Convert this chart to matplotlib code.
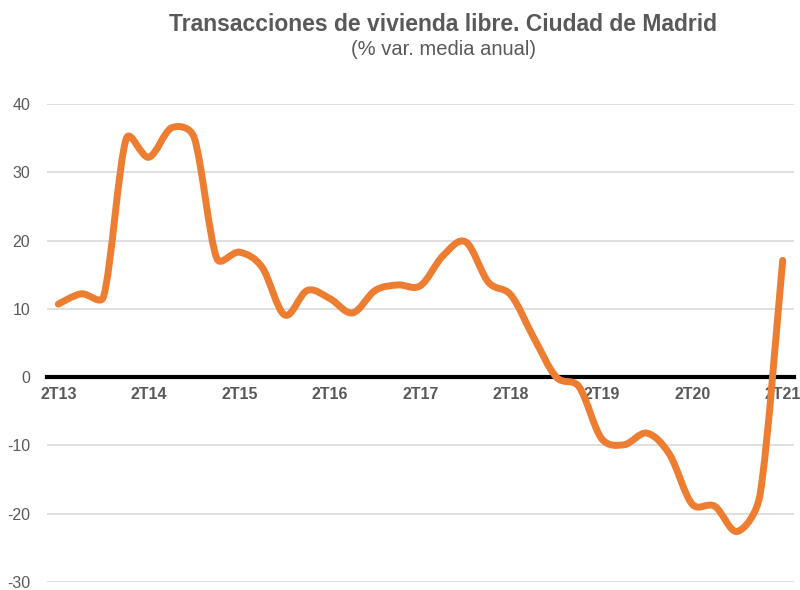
import matplotlib
matplotlib.use("Agg")
import matplotlib.pyplot as plt
import numpy as np
from matplotlib.path import Path
from matplotlib.patches import PathPatch

# Datos (% var. media anual), trimestral 2T13 - 2T21
trimestres = ["2T13", "3T13", "4T13", "1T14", "2T14", "3T14", "4T14", "1T15",
              "2T15", "3T15", "4T15", "1T16", "2T16", "3T16", "4T16", "1T17",
              "2T17", "3T17", "4T17", "1T18", "2T18", "3T18", "4T18", "1T19",
              "2T19", "3T19", "4T19", "1T20", "2T20", "3T20", "4T20", "1T21",
              "2T21"]
valores = [10.7, 12.2, 11.8, 34.9, 32.2, 36.5, 35.1, 17.4,
           18.3, 16.1, 9.1, 12.7, 11.5, 9.4, 12.7, 13.5,
           13.4, 17.8, 19.8, 13.9, 12.0, 5.8, 0.0, -1.4,
           -9.0, -9.9, -8.2, -11.3, -18.6, -18.9, -22.6, -17.2,
           17.1]
etiquetas = ["2T13", "2T14", "2T15", "2T16", "2T17", "2T18", "2T19", "2T20", "2T21"]

plt.rcParams['font.family'] = ['Liberation Sans', 'DejaVu Sans']
plt.rcParams['axes.unicode_minus'] = False
gris = "#595959"
naranja = "#ED7D31"

fig = plt.figure(figsize=(8, 5.9), dpi=100)
ax = fig.add_axes([0.05875, 0.01356, 0.93375, 0.8102])

ax.set_xlim(-0.5, len(valores) - 0.5)
ax.set_ylim(-30, 40)

x = np.arange(len(valores), dtype=float)
y = np.array(valores, dtype=float)

# linea suavizada tipo Excel: Bezier con tangentes Catmull-Rom,
# limitadas en pixeles para no sobrepasar demasiado
pts = ax.transData.transform(np.column_stack([x, y]))
n = len(pts)
tang = np.zeros_like(pts)
for i in range(n):
    tang[i] = (pts[min(i + 1, n - 1)] - pts[max(i - 1, 0)]) / 6

verts = [tuple(pts[0])]
codes = [Path.MOVETO]
for i in range(n - 1):
    seg = np.linalg.norm(pts[i + 1] - pts[i])
    t1 = tang[i]
    t2 = tang[i + 1]
    lim = 0.45 * seg
    if np.linalg.norm(t1) > lim:
        t1 = t1 * lim / np.linalg.norm(t1)
    if np.linalg.norm(t2) > lim:
        t2 = t2 * lim / np.linalg.norm(t2)
    verts += [tuple(pts[i] + t1), tuple(pts[i + 1] - t2), tuple(pts[i + 1])]
    codes += [Path.CURVE4] * 3
verts = ax.transData.inverted().transform(np.array(verts))
linea = PathPatch(Path(verts, codes), facecolor="none", edgecolor=naranja,
                  linewidth=5, capstyle="round", joinstyle="round", zorder=4)
ax.add_patch(linea)

ax.set_yticks(range(-30, 41, 10))
ax.grid(axis="y", color="#D9D9D9", linewidth=1.2, zorder=0)
ax.set_axisbelow(True)

for s in ["top", "right", "left"]:
    ax.spines[s].set_visible(False)
ax.spines["bottom"].set_position(("data", 0))
ax.spines["bottom"].set_color("black")
ax.spines["bottom"].set_linewidth(3)
ax.spines["bottom"].set_zorder(3)

ax.set_xticks(x[::4])
ax.set_xticklabels(etiquetas, fontweight="bold", fontsize=11.5, color=gris)
ax.tick_params(axis="x", length=0, pad=7)
ax.tick_params(axis="y", length=0, pad=12, labelsize=11.5, labelcolor=gris)

fig.text(0.554, 0.959, "Transacciones de vivienda libre. Ciudad de Madrid",
         ha="center", va="center", fontsize=16.5, fontweight="bold", color=gris)
fig.text(0.554, 0.916, "(% var. media anual)", ha="center", va="center",
         fontsize=14.5, color=gris)

fig.savefig("out.png", dpi=100)
